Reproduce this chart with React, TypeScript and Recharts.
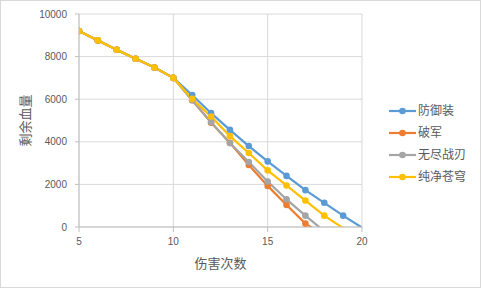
import React from 'react';
import { LineChart, Line, XAxis, YAxis, CartesianGrid, Legend, Label } from 'recharts';

const hits = [5, 6, 7, 8, 9, 10, 11, 12, 13, 14, 15, 16, 17, 18, 19, 20];
const seriesNames = ['防御装', '破军', '无尽战刃', '纯净苍穹'];
const seriesColors = ['#5B9BD5', '#ED7D31', '#A5A5A5', '#FFC000'];
const defenseHp = [9200, 8760, 8320, 7900, 7490, 7000, 6200, 5344, 4560, 3800, 3080, 2400, 1730, 1135, 534, -30];
const breakerHp = [9200, 8760, 8320, 7900, 7490, 7000, 5950, 4900, 3950, 2910, 1930, 1035, 160, -400];
const bladeHp = [9200, 8760, 8320, 7900, 7490, 7000, 5950, 4920, 3940, 3050, 2133, 1300, 534, -200];
const skyHp = [9200, 8760, 8320, 7900, 7490, 7000, 6014, 5185, 4266, 3473, 2658, 1950, 1243, 534, -50];
const xTicks = [5, 10, 15, 20];
const yTicks = [0, 2000, 4000, 6000, 8000, 10000];
const xTitle = '伤害次数';
const yTitle = '剩余血量';

const seriesValues = [defenseHp, breakerHp, bladeHp, skyHp];
const keys = ['s0', 's1', 's2', 's3'];

const data = hits.map((h, i) => {
  const row: any = { hits: h };
  seriesValues.forEach((vals, s) => {
    if (i < vals.length) row[keys[s]] = vals[i];
  });
  return row;
});

const FONT = "'Liberation Sans', 'Noto Sans CJK SC', sans-serif";
const TEXT = '#595959';

const makeDot = (color: string) => (props: any) => {
  const { cx, cy, value, index } = props;
  if (value == null || value < 0 || cx == null || cy == null) return <g key={`d-${index}`} />;
  return <circle key={`d-${index}`} cx={cx} cy={cy} r={3.3} fill={color} stroke="none" />;
};

const renderLegend = () => (
  <div style={{ fontFamily: FONT, fontSize: 12, color: TEXT }}>
    {seriesNames.map((n, i) => (
      <div key={n} style={{ display: 'flex', alignItems: 'center', height: 22 }}>
        <svg width={29} height={22} style={{ display: 'block' }}>
          <line x1={0} y1={11} x2={27} y2={11} stroke={seriesColors[i]} strokeWidth={2.2} />
          <circle cx={13.5} cy={11} r={3.3} fill={seriesColors[i]} />
        </svg>
        <span style={{ whiteSpace: 'nowrap', lineHeight: '22px' }}>{n}</span>
      </div>
    ))}
  </div>
);

const XTitle = (props: any) => {
  const vb = props.viewBox || { x: 78, y: 226, width: 283, height: 60 };
  return (
    <text x={vb.x + vb.width / 2} y={vb.y + 36} textAnchor="middle" dominantBaseline="central"
      fill={TEXT} fontSize={13} fontFamily={FONT}>{xTitle}</text>
  );
};

const YTitle = (props: any) => {
  const vb = props.viewBox || { x: 0, y: 13, width: 78, height: 213 };
  const cx = vb.x + 24.5;
  const cy = vb.y + vb.height / 2;
  return (
    <text x={cx} y={cy} textAnchor="middle" dominantBaseline="central" transform={`rotate(-90 ${cx} ${cy})`}
      fill={TEXT} fontSize={13} fontFamily={FONT}>{yTitle}</text>
  );
};

export default function App() {
  return (
    <div style={{ position: 'absolute', left: 0, top: 0, width: 481, height: 288, boxSizing: 'border-box', border: '1px solid #d9d9d9', background: '#fff' }}>
      <LineChart width={479} height={286} data={data} margin={{ top: 13, right: 118, bottom: 0, left: 0 }}>
        <CartesianGrid stroke="#d9d9d9" strokeWidth={1} />
        <XAxis dataKey="hits" type="number" domain={[5, 20]} ticks={xTicks} height={60}
          tickSize={5} tickMargin={6} axisLine={{ stroke: '#bfbfbf' }} tickLine={{ stroke: '#bfbfbf' }}
          tick={{ fill: TEXT, fontSize: 10, fontFamily: FONT }} allowDataOverflow>
          <Label content={<XTitle />} />
        </XAxis>
        <YAxis type="number" domain={[0, 10000]} ticks={yTicks} width={78} allowDataOverflow
          tickSize={4} tickMargin={8} axisLine={{ stroke: '#bfbfbf' }} tickLine={{ stroke: '#bfbfbf' }}
          tick={{ fill: TEXT, fontSize: 10, fontFamily: FONT }}>
          <Label content={<YTitle />} />
        </YAxis>
        <Legend layout="horizontal" align="center" verticalAlign="middle" content={renderLegend}
          wrapperStyle={{ left: 388, top: 99, width: 92, height: 88 }} />
        {keys.map((k, i) => (
          <Line key={k} type="linear" dataKey={k} name={seriesNames[i]} stroke={seriesColors[i]}
            strokeWidth={2.2} dot={makeDot(seriesColors[i])} activeDot={false}
            isAnimationActive={false} connectNulls={false} />
        ))}
      </LineChart>
    </div>
  );
}
